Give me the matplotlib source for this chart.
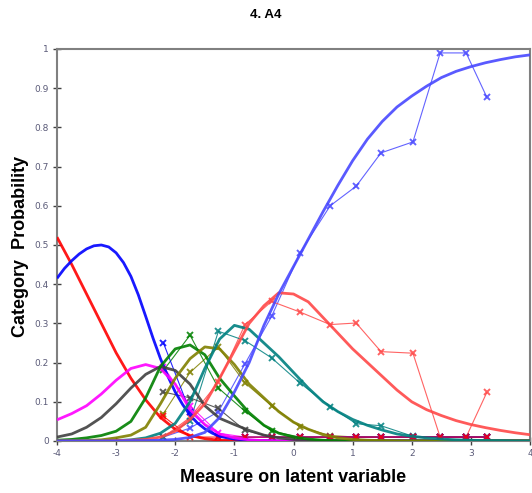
import matplotlib
matplotlib.use("Agg")
import matplotlib.pyplot as plt

# latent measure grid for the expected (model) curves
theta = [-4, -3.75, -3.5, -3.25, -3, -2.75, -2.5, -2.25, -2, -1.75, -1.5, -1.25, -1,
         -0.75, -0.5, -0.25, 0, 0.25, 0.5, 0.75, 1, 1.25, 1.5, 1.75, 2, 2.25, 2.5,
         2.75, 3, 3.25, 3.5, 3.75, 4]
# finer grid for category 1 (sharp bend near its peak)
theta1 = [-4, -3.875, -3.75, -3.625, -3.5, -3.375, -3.25, -3.125, -3, -2.875, -2.75,
          -2.625, -2.5, -2.375, -2.25, -2.125, -2, -1.875, -1.75, -1.625, -1.5, -1.375,
          -1.25, -1.125, -1, -0.75, -0.5, -0.25, 0, 1, 2, 3, 4]

cat0 = [0.52, 0.45, 0.375, 0.30, 0.225, 0.16, 0.105, 0.06, 0.03, 0.014, 0.006, 0.002, 0.001] + [0] * 20
cat1 = [0.415, 0.44, 0.46, 0.477, 0.49, 0.498, 0.50, 0.495, 0.48, 0.455, 0.42, 0.373, 0.318,
        0.262, 0.21, 0.165, 0.125, 0.093, 0.066, 0.046, 0.031, 0.02, 0.012, 0.008, 0.005,
        0.002, 0.001, 0, 0, 0, 0, 0, 0]
cat2 = [0.054, 0.07, 0.09, 0.12, 0.155, 0.185, 0.195, 0.185, 0.145, 0.08, 0.042, 0.018, 0.008,
        0.003, 0.001] + [0] * 18
cat3 = [0.01, 0.018, 0.035, 0.06, 0.095, 0.135, 0.17, 0.19, 0.18, 0.145, 0.09, 0.058, 0.042,
        0.027, 0.015, 0.008, 0.004, 0.002, 0.001] + [0] * 14
cat4 = [0.002, 0.004, 0.008, 0.014, 0.025, 0.05, 0.11, 0.19, 0.235, 0.245, 0.22, 0.16, 0.115,
        0.072, 0.04, 0.02, 0.01, 0.005, 0.002, 0.001] + [0] * 13
cat5 = [0, 0, 0.001, 0.003, 0.008, 0.015, 0.035, 0.095, 0.16, 0.21, 0.24, 0.235, 0.195,
        0.145, 0.11, 0.075, 0.048, 0.03, 0.016, 0.008, 0.004, 0.002, 0.001] + [0] * 10
cat6 = [0, 0, 0, 0, 0.001, 0.003, 0.008, 0.02, 0.045, 0.10, 0.185, 0.26, 0.295, 0.285, 0.25,
        0.215, 0.175, 0.135, 0.10, 0.075, 0.055, 0.04, 0.028, 0.018, 0.012, 0.008, 0.005,
        0.003, 0.002, 0.001, 0.001, 0, 0]
cat7 = [0, 0, 0, 0, 0.001, 0.002, 0.004, 0.01, 0.025, 0.055, 0.095, 0.16, 0.23, 0.30, 0.345,
        0.378, 0.375, 0.355, 0.315, 0.275, 0.235, 0.20, 0.165, 0.13, 0.10, 0.08, 0.065, 0.052,
        0.042, 0.034, 0.027, 0.021, 0.016]
cat8 = [0, 0, 0, 0, 0, 0.001, 0.001, 0.002, 0.004, 0.009, 0.022, 0.06, 0.125, 0.20, 0.295,
        0.375, 0.445, 0.515, 0.585, 0.652, 0.715, 0.77, 0.815, 0.852, 0.88, 0.905, 0.927,
        0.943, 0.955, 0.965, 0.973, 0.98, 0.985]

# observed proportions at class-interval means
ci = [-2.2, -1.75, -1.27, -0.82, -0.37, 0.11, 0.62, 1.06, 1.48, 2.02, 2.48, 2.92, 3.27]
obs0 = [0.063, 0.01, 0.01, 0.01, 0.01, 0.01, 0.01, 0.01, 0.01, 0.01, 0.01, 0.01, 0.01]
obs1 = [0.25, 0.075, 0.01, 0.01, 0.01, 0.01, 0.01, 0.01, 0.01, 0.01, 0.01, 0.01, 0.01]
obs2 = [0.19, 0.09, 0.02, 0.01, 0.01, 0.01, 0.01, 0.01, 0.01, 0.01, 0.01, 0.01, 0.01]
obs3 = [0.125, 0.11, 0.083, 0.027, 0.01, 0.01, 0.01, 0.01, 0.01, 0.01, 0.01, 0.01, 0.01]
obs4 = [0.18, 0.27, 0.135, 0.076, 0.025, 0.01, 0.01, 0.01, 0.01, 0.01, 0.01, 0.01, 0.01]
obs5 = [0.07, 0.175, 0.24, 0.148, 0.09, 0.036, 0.014, 0.01, 0.01, 0.01, 0.01, 0.01, 0.01]
obs6 = [0.01, 0.05, 0.28, 0.256, 0.212, 0.148, 0.088, 0.044, 0.039, 0.012, 0.01, 0.01, 0.01]
obs7 = [0.01, 0.06, 0.15, 0.297, 0.356, 0.329, 0.297, 0.301, 0.228, 0.224, 0.01, 0.01, 0.124]
obs8 = [0.01, 0.033, 0.075, 0.197, 0.318, 0.48, 0.60, 0.65, 0.735, 0.763, 0.99, 0.99, 0.877]

xticks = [-4, -3, -2, -1, 0, 1, 2, 3, 4]
yticks = [0, 0.1, 0.2, 0.3, 0.4, 0.5, 0.6, 0.7, 0.8, 0.9, 1]
ytick_labels = ["0", "0.1", "0.2", "0.3", "0.4", "0.5", "0.6", "0.7", "0.8", "0.9", "1"]

colors = ["#FF0000", "#0000FF", "#FF00FF", "#404040", "#008000", "#808000", "#008080",
          "#FF4848", "#4848FF"]
curves = [cat0, cat1, cat2, cat3, cat4, cat5, cat6, cat7, cat8]
grids = [theta, theta1] + [theta] * 7
observed = [obs0, obs1, obs2, obs3, obs4, obs5, obs6, obs7, obs8]

fig = plt.figure(figsize=(5.32, 4.93), dpi=100)
ax = fig.add_axes([57 / 532, 1 - 441 / 493, (530 - 57) / 532, (441 - 49) / 493])

for i in range(8, -1, -1):
    ax.plot(ci, observed[i], color=colors[i], lw=0.8, alpha=0.85, marker="x",
            markersize=4.5, markeredgewidth=1.4, zorder=2 + (i == 0))
for i in range(9):
    ax.plot(grids[i], curves[i], color=colors[i], lw=2.0, alpha=0.9, zorder=4,
            solid_capstyle="butt", solid_joinstyle="round")

ax.set_xlim(-4, 4)
ax.set_ylim(0, 1)
ax.set_xticks(xticks)
ax.set_xticklabels([str(t) for t in xticks])
ax.set_yticks(yticks)
ax.set_yticklabels(ytick_labels)
ax.tick_params(direction="inout", length=6, width=1, color="#404040",
               labelsize=6.5, labelcolor="#5a5a78", pad=3)
for s in ax.spines.values():
    s.set_color("#808080")
    s.set_linewidth(1.5)

fig.text(0.5, 1 - 15 / 493, "4. A4", ha="center", va="center", fontsize=9.5,
         fontweight="bold", family="Liberation Sans")
fig.text(293 / 532, 1 - 478 / 493, "Measure on latent variable", ha="center", va="center",
         fontsize=13, fontweight="bold", family="Liberation Sans")
fig.text(21 / 532, 1 - 246 / 493, "Category  Probability", ha="center", va="center",
         rotation=90, fontsize=13, fontweight="bold", family="Liberation Sans")

fig.savefig("out.png", dpi=100)
